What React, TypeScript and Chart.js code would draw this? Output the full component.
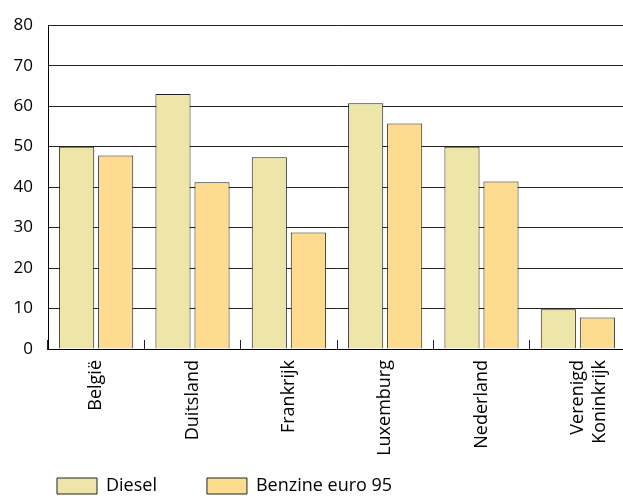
import React, { useEffect, useRef } from "react";
import { Chart, registerables } from "chart.js";

Chart.register(...registerables);

const categories: (string | string[])[] = [
  "België",
  "Duitsland",
  "Frankrijk",
  "Luxemburg",
  "Nederland",
  ["Verenigd", "Koninkrijk"],
];
const dieselValues = [50, 63, 47.4, 60.7, 50, 9.8];
const benzineValues = [47.8, 41.2, 28.8, 55.7, 41.4, 7.8];
const seriesNames = ["Diesel", "Benzine euro 95"];
const yMin = 0;
const yMax = 80;
const yStep = 10;

const FONT = "'Open Sans', 'DejaVu Sans', sans-serif";

const legendPlace = {
  id: "legendPlace",
  afterLayout(chart: any) {
    const lg = chart.legend;
    if (lg) {
      lg.left = 7;
      lg.top = 427;
    }
  },
};

export default function App() {
  const ref = useRef<HTMLCanvasElement | null>(null);
  useEffect(() => {
    if (!ref.current) return;
    const chart = new Chart(ref.current, {
      type: "bar",
      data: {
        labels: categories,
        datasets: [
          {
            label: seriesNames[0],
            data: dieselValues,
            backgroundColor: "#EEE6A8",
            borderColor: "#222",
            borderWidth: 1,
            barPercentage: 0.9,
            categoryPercentage: 0.81,
          },
          {
            label: seriesNames[1],
            data: benzineValues,
            backgroundColor: "#FEDC8F",
            borderColor: "#222",
            borderWidth: 1,
            barPercentage: 0.9,
            categoryPercentage: 0.81,
          },
        ],
      },
      options: {
        responsive: false,
        animation: false,
        layout: { padding: { top: 13, left: 0, right: 0, bottom: 0 } },
        plugins: {
          tooltip: { enabled: false },
          legend: {
            position: "bottom",
            align: "start",
            maxHeight: 30,
            labels: {
              boxWidth: 40,
              boxHeight: 16,
              padding: 50,
              color: "#000",
              font: { family: FONT, size: 18 },
            },
          },
        },
        scales: {
          x: {
            offset: true,
            grid: {
              display: true,
              offset: true,
              drawOnChartArea: false,
              drawTicks: true,
              tickLength: -9,
              color: "#222",
            },
            border: { display: true, color: "#000", width: 1 },
            ticks: {
              minRotation: 90,
              maxRotation: 90,
              autoSkip: false,
              padding: 20,
              color: "#000",
              font: { family: FONT, size: 18 },
            },
            afterFit: (scale: any) => {
              scale.height = 117;
              scale.paddingLeft = 0;
              scale.paddingRight = 0;
            },
          },
          y: {
            min: yMin,
            max: yMax,
            grid: { color: "#222", drawTicks: false, lineWidth: 1 },
            border: { display: true, color: "#000", width: 1 },
            ticks: {
              stepSize: yStep,
              padding: 15,
              color: "#000",
              font: { family: FONT, size: 17 },
            },
            afterFit: (scale: any) => {
              scale.width = 48;
            },
          },
        },
      },
      plugins: [legendPlace],
    });
    return () => chart.destroy();
  }, []);
  return (
    <div
      style={{
        position: "absolute",
        left: 0,
        top: 0,
        width: 623,
        height: 496,
        overflow: "hidden",
        background: "#fff",
      }}
    >
      <canvas ref={ref} width={626} height={496} />
    </div>
  );
}
